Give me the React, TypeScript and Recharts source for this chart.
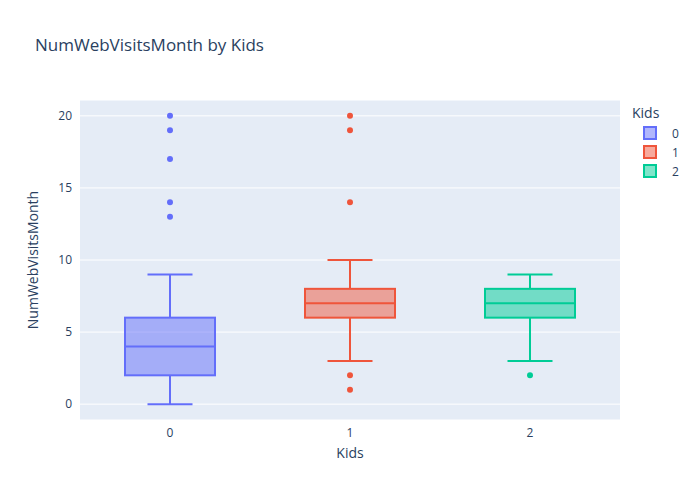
import React from "react";
import { ComposedChart, Bar, XAxis, YAxis, CartesianGrid } from "recharts";

const kids = ["0", "1", "2"];
const mins = [0, 3, 3];
const q1s = [2, 6, 6];
const medians = [4, 7, 7];
const q3s = [6, 8, 8];
const maxs = [9, 10, 9];
const outliers = [[13, 14, 17, 19, 20], [1, 2, 14, 19, 20], [2]];
const colors = ["#636EFA", "#EF553B", "#00CC96"];
const yTicks = [0, 5, 10, 15, 20];

const data = kids.map((k, i) => ({
  kid: k, min: mins[i], q1: q1s[i], median: medians[i], q3: q3s[i], max: maxs[i],
  outliers: outliers[i], color: colors[i],
}));

const font = '"Open Sans", sans-serif';
const txt = "#2a3f5f";

const BoxShape = (props: any) => {
  const { x, y, width, height, payload } = props;
  const p = payload;
  const px = (v: number) => y + (height * (p.max - v)) / (p.max - p.min);
  const cx = x + width / 2;
  const c = p.color;
  return (
    <g>
      <line x1={cx} x2={cx} y1={px(p.max)} y2={px(p.q3)} stroke={c} strokeWidth={2} />
      <line x1={cx} x2={cx} y1={px(p.q1)} y2={px(p.min)} stroke={c} strokeWidth={2} />
      <line x1={x + width / 4} x2={x + (3 * width) / 4} y1={px(p.max)} y2={px(p.max)} stroke={c} strokeWidth={2} />
      <line x1={x + width / 4} x2={x + (3 * width) / 4} y1={px(p.min)} y2={px(p.min)} stroke={c} strokeWidth={2} />
      <rect x={x} y={px(p.q3)} width={width} height={px(p.q1) - px(p.q3)} fill={c} fillOpacity={0.5} stroke={c} strokeWidth={2} />
      <line x1={x} x2={x + width} y1={px(p.median)} y2={px(p.median)} stroke={c} strokeWidth={2} />
      {p.outliers.map((o: number, j: number) => (
        <circle key={j} cx={cx} cy={px(o)} r={3} fill={c} />
      ))}
    </g>
  );
};

const LegendBox = () => (
  <div style={{ position: "absolute", left: 632, top: 103, fontFamily: font, color: txt }}>
    <div style={{ fontSize: 14, marginBottom: 2 }}>Kids</div>
    {kids.map((k, i) => (
      <div key={k} style={{ display: "flex", alignItems: "center", height: 19, fontSize: 12 }}>
        <svg width={40} height={19}>
          <rect x={12} y={3} width={12} height={12} fill={colors[i]} fillOpacity={0.5} stroke={colors[i]} strokeWidth={2} />
        </svg>
        <span>{k}</span>
      </div>
    ))}
  </div>
);

export default function App() {
  return (
    <div style={{ position: "absolute", left: 0, top: 0, width: 700, height: 500, background: "#fff" }}>
      <div style={{ position: "absolute", left: 35, top: 33, fontFamily: font, fontSize: 17, color: txt }}>
        NumWebVisitsMonth by Kids
      </div>
      <ComposedChart width={700} height={500} data={data} margin={{ top: 100, right: 80, bottom: 50, left: 0 }}>
        <CartesianGrid vertical={false} fill="#E5ECF6" stroke="#fff" strokeWidth={1} />
        <XAxis dataKey="kid" height={30} axisLine={false} tickLine={false}
          tick={{ fill: txt, fontSize: 12, fontFamily: font }}
          label={{ value: "Kids", position: "insideBottom", offset: -8, fill: txt, fontSize: 14, fontFamily: font }} />
        <YAxis width={80} domain={[-1.1, 21.1]} ticks={yTicks} axisLine={false} tickLine={false}
          tick={{ fill: txt, fontSize: 12, fontFamily: font }}
          label={{ value: "NumWebVisitsMonth", angle: -90, position: "insideLeft", dx: 28, fill: txt, fontSize: 14, fontFamily: font, style: { textAnchor: "middle" } }} />
        <Bar dataKey={(d: any) => [d.min, d.max]} barSize={90} shape={<BoxShape />} isAnimationActive={false} />
      </ComposedChart>
      <LegendBox />
    </div>
  );
}
